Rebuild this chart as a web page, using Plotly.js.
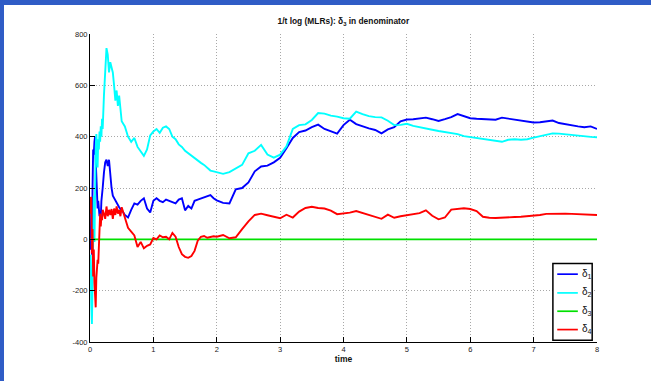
<!DOCTYPE html>
<html>
<head>
<meta charset="utf-8">
<script src="https://cdn.plot.ly/plotly-3.0.1.min.js"></script>
<style>
  html, body { margin: 0; padding: 0; background: #ffffff; }
  #wrap { position: relative; width: 651px; height: 381px; overflow: hidden; }
  #chart { position: absolute; left: 0; top: 0; width: 651px; height: 381px; }
  .edge { position: absolute; background: #2f5cc6; z-index: 5; }
</style>
</head>
<body>
<div id="wrap">
  <div id="chart"></div>
  <div class="edge" style="left:0;top:0;width:651px;height:5px;"></div>
  <div class="edge" style="left:0;top:0;width:4px;height:381px;"></div>
</div>
<script>
// Sample times (denser near the start, where the estimates swing the most)
const time = [
  0.00, 0.01, 0.02, 0.03, 0.04, 0.05, 0.06, 0.07, 0.08, 0.09,
  0.10, 0.11, 0.12, 0.13, 0.14, 0.15, 0.16, 0.17, 0.18, 0.19,
  0.20, 0.22, 0.24, 0.26, 0.28, 0.30, 0.32, 0.34, 0.36, 0.38,
  0.40, 0.42, 0.44, 0.46, 0.48, 0.50, 0.55, 0.60, 0.65, 0.70,
  0.75, 0.80, 0.85, 0.90, 0.95, 1.00, 1.05, 1.10, 1.15, 1.20,
  1.25, 1.30, 1.35, 1.40, 1.45, 1.50, 1.55, 1.60, 1.65, 1.70,
  1.75, 1.80, 1.85, 1.90, 1.95, 2.00, 2.1, 2.2, 2.3, 2.4,
  2.5, 2.6, 2.7, 2.8, 2.9, 3.0, 3.1, 3.2, 3.3, 3.4,
  3.5, 3.6, 3.7, 3.8, 3.9, 4.0, 4.1, 4.2, 4.3, 4.4,
  4.5, 4.6, 4.7, 4.8, 4.9, 5.0, 5.1, 5.2, 5.3, 5.4,
  5.5, 5.6, 5.7, 5.8, 5.9, 6.0, 6.1, 6.2, 6.3, 6.4,
  6.5, 6.6, 6.7, 6.8, 6.9, 7.0, 7.1, 7.2, 7.3, 7.4,
  7.5, 7.6, 7.7, 7.8, 7.9, 8.0
];

// delta_1
const delta1 = [
  0, -40, 130, -60, 200, 350, 330, 380, 400, 310,
  260, 160, 120, 150, 100, 90, 110, 85, 150, 170,
  200, 260, 300, 310, 285, 310, 240, 200, 170, 160,
  155, 140, 130, 125, 118, 115, 95, 85, 115, 140,
  135, 150, 160, 120, 105, 150, 160, 150, 145, 155,
  150, 145, 140, 155, 160, 113, 130, 120, 150, 155,
  160, 162, 168, 172, 160, 152, 142, 140, 195, 200,
  222, 265, 284, 287, 300, 318, 355, 395, 418, 424,
  437, 447, 430, 420, 412, 445, 466, 449, 440, 432,
  426, 413, 428, 437, 460, 467, 468, 472, 474, 468,
  461, 468, 476, 488, 480, 472, 470, 468, 467, 466,
  474, 470, 465, 462, 458, 455, 456, 459, 463, 453,
  448, 444, 440, 437, 440, 430
];

// delta_2
const delta2 = [
  -100, -60, -250, -330, -180, 110, 170, -10, 240, 360,
  410, 300, 280, 390, 350, 420, 380, 440, 400, 470,
  430, 560, 690, 745, 720, 650, 690, 670, 650, 600,
  540, 580, 520, 560, 500, 460, 440, 400, 380, 395,
  360, 340, 325, 350, 405, 420, 430, 415, 435, 440,
  430, 400, 390, 370, 360, 345, 335, 325, 315, 305,
  298, 290, 280, 268, 265, 262, 255, 262, 275, 290,
  335, 345, 368, 330, 318, 330, 362, 430, 445, 448,
  465, 492, 490, 482, 478, 472, 470, 498, 488, 480,
  476, 475, 462, 445, 446, 450, 442, 436, 432, 427,
  422, 418, 416, 410, 402, 398, 396, 392, 388, 384,
  380, 388, 390, 388, 390, 396, 402, 408, 413, 412,
  409, 406, 404, 400, 399, 398
];

// delta_3 is the reference level
const t3 = [0, 8];
const delta3 = [0, 0];

// delta_4
const delta4 = [
  100, 165, 160, -55, 40, -145, -40, -170, -230, -265,
  -150, -105, -80, -95, 0, 90, 100, 50, 90, 75,
  115, 100, 80, 128, 90, 115, 95, 118, 80, 120,
  95, 128, 100, 115, 90, 125, 80, 45, 30, 15,
  -30, -10, -35, -25, -20, 5, 0, 15, 8, 10,
  0, 25, 10, -30, -58, -68, -72, -65, -45, -5,
  10, 13, 6, 8, 12, 10, 17, 4, 8, 40,
  70, 95, 100, 94, 88, 82, 96, 85, 108, 122,
  127, 122, 120, 112, 98, 100, 104, 110, 102, 94,
  85, 80, 96, 84, 90, 95, 98, 102, 113, 92,
  78, 85, 116, 119, 121, 118, 110, 88, 84, 83,
  85, 86, 87, 88, 90, 91, 95, 99, 100, 100,
  100, 99, 98, 97, 96, 95
];

const seriesNames = ['δ<sub>1</sub>', 'δ<sub>2</sub>', 'δ<sub>3</sub>', 'δ<sub>4</sub>'];
const seriesColors = ['#0000ff', '#00ffff', '#00e000', '#ff0000'];

const xTicks = [0, 1, 2, 3, 4, 5, 6, 7, 8];
const yTicks = [-400, -200, 0, 200, 400, 600, 800];

const FONT = 'Liberation Sans, Arial, sans-serif';
const labelFont = { family: FONT, size: 7.5, color: '#222' };

const xs = [time, time, t3, time];
const ys = [delta1, delta2, delta3, delta4];

const traces = ys.map((y, i) => ({
  x: xs[i], y: y, name: seriesNames[i], type: 'scatter', mode: 'lines',
  line: { color: seriesColors[i], width: 1.9 }, showlegend: false
}));

// Boxed key in the lower-right corner of the axes (paper coordinates)
const keyBox = { x0: 0.913, x1: 0.9905, y0: 0.0055, y1: 0.255 };
const keyRows = [0.2202, 0.1594, 0.0999, 0.0403];
const shapes = [{
  type: 'rect', xref: 'paper', yref: 'paper',
  x0: keyBox.x0, x1: keyBox.x1, y0: keyBox.y0, y1: keyBox.y1,
  line: { color: '#000', width: 1.5 }, fillcolor: '#ffffff', layer: 'above'
}];
const annotations = [];
keyRows.forEach((ry, i) => {
  shapes.push({
    type: 'line', xref: 'paper', yref: 'paper',
    x0: 0.9216, x1: 0.9622, y0: ry, y1: ry,
    line: { color: seriesColors[i], width: 1.7 }, layer: 'above'
  });
  annotations.push({
    xref: 'paper', yref: 'paper', x: 0.9655, y: ry + 0.002,
    xanchor: 'left', yanchor: 'middle', showarrow: false,
    text: seriesNames[i], font: { family: FONT, size: 10, color: '#111' }
  });
});

const axisCommon = {
  showline: true, linecolor: '#000', linewidth: 1, mirror: false,
  ticks: 'inside', ticklen: 5, tickcolor: '#000', tickwidth: 1,
  showgrid: true, gridcolor: '#a8a8a8', griddash: '1px,2px', gridwidth: 1,
  zeroline: false, tickfont: labelFont
};

const layout = {
  width: 651, height: 381,
  margin: { l: 90, r: 53.5, t: 34.3, b: 39.3 },
  paper_bgcolor: '#ffffff', plot_bgcolor: '#ffffff',
  title: {
    text: '<b>1/t log (MLRs): δ<sub>3</sub> in denominator</b>',
    font: { family: FONT, size: 8.4, color: '#111' },
    x: 0.5275, xanchor: 'center', y: 0.945, yanchor: 'middle'
  },
  xaxis: Object.assign({}, axisCommon, {
    range: [0, 8], tickvals: xTicks, ticktext: xTicks.map(String),
    title: { text: '<b>time</b>', font: { family: FONT, size: 8.5, color: '#111' }, standoff: 3 }
  }),
  yaxis: Object.assign({}, axisCommon, {
    range: [-400, 800], tickvals: yTicks, ticktext: yTicks.map(String)
  }),
  showlegend: false,
  shapes: shapes,
  annotations: annotations
};

Plotly.newPlot('chart', traces, layout, { displayModeBar: false, staticPlot: true });
</script>
</body>
</html>
